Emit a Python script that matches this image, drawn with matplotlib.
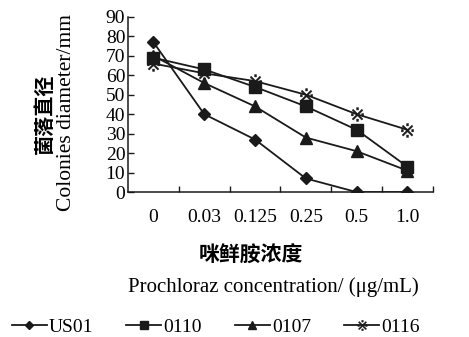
import matplotlib
matplotlib.use("Agg")
import matplotlib.pyplot as plt
from matplotlib.ticker import FixedLocator

categories = ["0", "0.03", "0.125", "0.25", "0.5", "1.0"]
us01 = [77, 40, 27, 7, 0, 0]
s0110 = [69, 63, 54, 44, 32, 13]
s0107 = [70, 56, 44, 28, 21, 11]
s0116 = [66, 61, 57, 50, 40, 32]
yticks = [0, 10, 20, 30, 40, 50, 60, 70, 80, 90]

serif = "Liberation Serif"
cjk = "Noto Sans CJK SC"

fig = plt.figure(figsize=(4.69, 3.37), dpi=100)
ax = fig.add_axes([0.273, 0.430, 0.650, 0.520])

x = list(range(len(categories)))
c = "#1a1a1a"
ax.plot(x, us01, color=c, lw=1.3, marker="D", ms=6, label="US01", zorder=3)
ax.plot(x, s0110, color=c, lw=1.3, marker="s", ms=8, label="0110", zorder=4)
ax.plot(x, s0107, color=c, lw=1.3, marker="^", ms=8, label="0107", zorder=3)
ax.plot(x, s0116, color=c, lw=1.3, marker="$\u203b$", ms=10, mew=0.3, label="0116", zorder=2)

ax.set_xlim(-0.5, 5.5)
ax.set_ylim(0, 90)
ax.set_xticks(x)
ax.set_xticklabels(categories, fontfamily=serif, fontsize=14)
ax.xaxis.set_minor_locator(FixedLocator([0.5, 1.5, 2.5, 3.5, 4.5, 5.5]))
ax.tick_params(axis="x", which="major", length=0, pad=12)
ax.tick_params(axis="x", which="minor", direction="in", length=4, width=1, color=c)
ax.set_yticks(yticks)
ax.set_yticklabels([str(v) for v in yticks], fontfamily=serif, fontsize=14)
ax.tick_params(axis="y", direction="in", length=4, width=1, pad=2, color=c)
for s in ["top", "right"]:
    ax.spines[s].set_visible(False)
for s in ["left", "bottom"]:
    ax.spines[s].set_linewidth(1.1)
    ax.spines[s].set_color(c)

fig.text(0.141, 0.665, "Colonies diameter/mm", rotation=90, ha="center", va="center",
         fontfamily=serif, fontsize=15.5)
fig.text(0.094, 0.662, "菌落直径", rotation=90, ha="center", va="center",
         fontfamily=cjk, fontsize=14.5, fontweight="bold")
fig.text(0.535, 0.243, "咪鲜胺浓度", ha="center", va="center",
         fontfamily=cjk, fontsize=15, fontweight="bold")
fig.text(0.583, 0.148, "Prochloraz concentration/ (μg/mL)", ha="center", va="center",
         fontfamily=serif, fontsize=15)

leg = fig.legend(loc="center", bbox_to_anchor=(0.46, 0.03), ncol=4, frameon=False,
                 prop={"family": serif, "size": 14}, handlelength=1.8, handletextpad=0.1,
                 columnspacing=1.7, markerscale=0.75)

fig.savefig("out.png", dpi=100)
